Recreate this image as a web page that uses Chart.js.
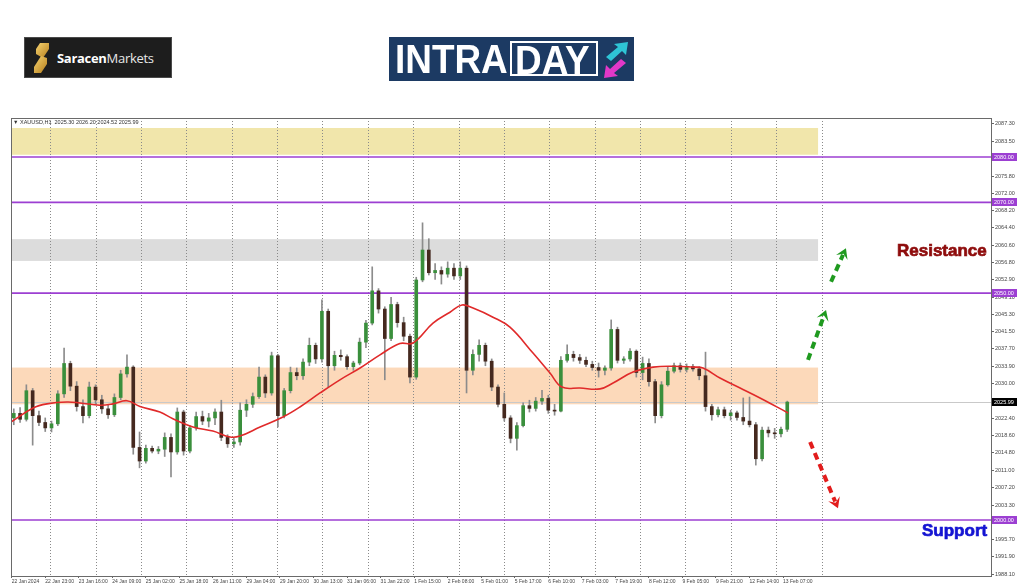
<!DOCTYPE html>
<html>
<head>
<meta charset="utf-8">
<script src="https://cdn.jsdelivr.net/npm/chart.js@4.4.1/dist/chart.umd.min.js"></script>
<style>
    body { margin: 0; background: #fff; width: 1024px; height: 587px; overflow: hidden; position: relative; font-family: "Liberation Sans", Arial, sans-serif; }
    #graficoOuro { position: absolute; left: 0; top: 0; }
    .logoSaracen { position: absolute; left: 24px; top: 37px; width: 148px; height: 41px; background: #1d1d1d; border: 1px solid #4a4a4a; box-sizing: border-box; }
    .logoSaracen svg { position: absolute; left: 8px; top: 5px; }
    .logoSaracen .nome { position: absolute; left: 32px; top: 11px; font-family: "Open Sans", sans-serif; font-size: 13px; color: #e8e8e8; letter-spacing: -0.3px; }
    .logoSaracen .nome b { color: #fff; font-weight: 700; }
    .logoIntra { position: absolute; left: 389px; top: 37px; width: 245px; height: 44px; background: #1c3a63; }
    .logoIntra .intra { position: absolute; left: 6px; top: 2px; font-size: 41px; font-weight: 700; color: #fff; transform: scaleX(0.9); transform-origin: left top; line-height: 41px; }
    .logoIntra .day { position: absolute; left: 121px; top: 4px; width: 88px; height: 35px; border: 2px solid #fff; box-sizing: border-box; }
    .logoIntra .day span { position: absolute; left: 3px; top: -3px; font-size: 41px; font-weight: 700; color: #fff; transform: scaleX(0.9); transform-origin: left top; line-height: 41px; }
    .logoIntra svg { position: absolute; left: 213px; top: 4px; }
    .cabecalho { position: absolute; left: 13px; top: 119px; font-size: 5.5px; color: #333; white-space: pre; }
    .rotulo { position: absolute; font-size: 17px; font-weight: 700; line-height: 17px; -webkit-text-stroke: 0.7px currentColor; }
    .resistencia { left: 897px; top: 242px; color: #8e0c0c; }
    .suporte { left: 922px; top: 522px; color: #1414d2; }
</style>
</head>
<body>
<canvas id="graficoOuro" width="1024" height="587"></canvas>

<div class="logoSaracen">
    <svg width="18" height="30" viewBox="0 0 18 30">
        <defs>
            <linearGradient id="ouro" x1="0" y1="0" x2="1" y2="1">
                <stop offset="0" stop-color="#f7d470"/>
                <stop offset="1" stop-color="#b57e1d"/>
            </linearGradient>
        </defs>
        <polygon points="7,0 16,0 16,6 10,15 3,11 3,6" fill="url(#ouro)"/>
        <polygon points="14,15 14,21 8,30 1,30 1,24 8,13" fill="url(#ouro)"/>
    </svg>
    <span class="nome"><b>Saracen</b>Markets</span>
</div>

<div class="logoIntra">
    <span class="intra">INTRA</span>
    <div class="day"><span>DAY</span></div>
    <svg width="28" height="38" viewBox="0 0 28 38">
        <polygon points="4,16 16,6 12,3 26,1 24,14 20,10 9,20" fill="#2ec4d6"/>
        <polygon points="24,22 12,32 16,35 2,37 4,24 8,28 19,18" fill="#e238c8"/>
    </svg>
</div>

<div class="cabecalho">&#9660; XAUUSD,H1  2025.30 2026.20 2024.52 2025.99</div>
<div class="rotulo resistencia">Resistance</div>
<div class="rotulo suporte">Support</div>

<script>
// Velas de 3 horas (XAUUSD H1 agrupado)
const abertura = [
    2022.5, 2023.5, 2022.2, 2028.5, 2023.0, 2021.5, 2020.3, 2021.2, 2027.8, 2034.5,
    2029.5, 2025.0, 2023.0, 2029.3, 2026.5, 2024.5, 2023.2, 2027.0, 2032.2, 2033.7,
    2016.0, 2013.0, 2015.8, 2015.2, 2015.6, 2018.2, 2015.0, 2023.8, 2015.2, 2020.3,
    2022.8, 2021.8, 2022.5, 2023.8, 2018.2, 2016.8, 2017.2, 2024.2, 2025.5, 2027.2,
    2031.5, 2028.0, 2036.2, 2023.0, 2028.5, 2032.5, 2031.8, 2034.8, 2038.5, 2035.5,
    2046.0, 2034.0, 2036.3, 2036.0, 2033.8, 2034.6, 2039.2, 2043.4, 2050.5, 2046.5,
    2040.0, 2047.5, 2043.5, 2040.5, 2031.5, 2052.9, 2059.5, 2054.5, 2055.0, 2054.2,
    2055.5, 2053.8, 2055.5, 2033.0, 2036.5, 2038.5, 2035.0, 2029.3, 2025.5, 2022.5,
    2018.0, 2020.8, 2025.2, 2024.6, 2026.2, 2026.8, 2024.2, 2024.0, 2035.2, 2036.5,
    2035.8, 2035.2, 2034.3, 2033.6, 2033.0, 2033.5, 2042.0, 2035.2, 2035.5, 2037.2,
    2032.5, 2034.5, 2030.5, 2023.0, 2029.8, 2032.8, 2034.0, 2033.2, 2033.8, 2033.3,
    2031.8, 2025.0, 2023.2, 2024.3, 2023.0, 2023.6, 2022.6, 2021.8, 2021.0, 2013.5,
    2019.8, 2019.2, 2019.0, 2020.0
];
const maxima = [
    2024.5, 2024.8, 2029.8, 2029.0, 2024.0, 2022.5, 2021.8, 2028.5, 2037.9, 2035.0,
    2030.5, 2026.5, 2030.4, 2029.8, 2027.5, 2025.3, 2027.8, 2033.0, 2036.4, 2034.0,
    2019.4, 2016.5, 2016.3, 2016.2, 2019.2, 2019.0, 2024.7, 2024.2, 2020.8, 2023.8,
    2024.0, 2023.5, 2024.5, 2026.4, 2018.8, 2018.0, 2025.8, 2026.5, 2028.0, 2033.7,
    2032.0, 2037.0, 2036.5, 2029.0, 2033.7, 2033.5, 2035.5, 2040.1, 2039.0, 2048.5,
    2046.5, 2037.2, 2037.5, 2036.4, 2035.0, 2040.1, 2044.0, 2055.8, 2051.0, 2047.0,
    2049.1, 2048.0, 2044.7, 2041.0, 2053.5, 2065.5, 2062.0, 2056.5, 2055.8, 2056.9,
    2056.5, 2056.9, 2056.0, 2037.5, 2039.7, 2039.0, 2035.5, 2029.8, 2028.0, 2023.0,
    2021.5, 2025.8, 2026.4, 2027.0, 2028.6, 2027.5, 2025.5, 2036.0, 2038.6, 2037.2,
    2036.5, 2035.9, 2035.0, 2034.6, 2034.0, 2044.1, 2042.5, 2036.0, 2037.8, 2037.5,
    2035.9, 2035.5, 2031.0, 2030.5, 2033.7, 2034.6, 2034.6, 2034.4, 2034.3, 2033.8,
    2037.0, 2025.5, 2024.9, 2024.9, 2024.2, 2024.0, 2026.9, 2027.1, 2021.5, 2020.5,
    2020.5, 2020.2, 2020.5, 2026.2
];
const minima = [
    2021.0, 2021.5, 2021.8, 2016.5, 2020.8, 2019.5, 2019.4, 2020.8, 2027.0, 2028.5,
    2024.0, 2021.4, 2022.5, 2025.5, 2023.5, 2022.4, 2022.8, 2026.5, 2031.5, 2014.5,
    2011.5, 2012.5, 2014.8, 2014.6, 2014.0, 2009.5, 2014.5, 2014.3, 2014.8, 2019.8,
    2021.0, 2020.5, 2021.0, 2017.5, 2016.0, 2016.0, 2016.5, 2022.8, 2024.8, 2026.8,
    2027.0, 2027.5, 2020.5, 2022.5, 2028.0, 2030.9, 2031.0, 2034.0, 2034.5, 2034.8,
    2029.3, 2033.0, 2035.2, 2033.2, 2033.0, 2034.2, 2038.0, 2043.0, 2045.6, 2030.9,
    2039.5, 2042.5, 2039.5, 2030.2, 2031.0, 2052.5, 2054.0, 2053.0, 2052.0, 2053.5,
    2053.0, 2053.0, 2028.0, 2032.0, 2035.0, 2034.0, 2028.5, 2024.9, 2021.8, 2017.0,
    2015.4, 2020.5, 2023.8, 2024.0, 2025.5, 2023.5, 2023.1, 2023.8, 2034.8, 2035.0,
    2034.5, 2033.8, 2033.0, 2031.5, 2032.0, 2033.0, 2034.6, 2034.5, 2035.0, 2031.5,
    2030.9, 2029.5, 2021.4, 2022.5, 2029.5, 2032.4, 2032.6, 2032.6, 2032.8, 2030.9,
    2024.0, 2022.0, 2022.7, 2022.5, 2022.0, 2022.0, 2021.0, 2020.5, 2012.1, 2013.0,
    2018.3, 2018.0, 2018.3, 2019.5
];
const fechamento = [
    2023.5, 2022.2, 2028.5, 2023.0, 2021.5, 2020.3, 2021.2, 2027.8, 2034.5, 2029.5,
    2025.0, 2023.0, 2029.3, 2026.5, 2024.5, 2023.2, 2027.0, 2032.2, 2033.7, 2016.0,
    2013.0, 2015.8, 2015.2, 2015.6, 2018.2, 2015.0, 2023.8, 2015.2, 2020.3, 2022.8,
    2021.8, 2022.5, 2023.8, 2018.2, 2016.8, 2017.2, 2024.2, 2025.5, 2027.2, 2031.5,
    2028.0, 2036.2, 2023.0, 2028.5, 2032.5, 2031.8, 2034.8, 2038.5, 2035.5, 2046.0,
    2034.0, 2036.3, 2036.0, 2033.8, 2034.6, 2039.2, 2043.4, 2050.5, 2046.5, 2040.0,
    2047.5, 2043.5, 2040.5, 2031.5, 2052.9, 2059.5, 2054.5, 2055.0, 2054.2, 2055.5,
    2053.8, 2055.5, 2033.0, 2036.5, 2038.5, 2035.0, 2029.3, 2025.5, 2022.5, 2018.0,
    2020.8, 2025.2, 2024.6, 2026.2, 2026.8, 2024.2, 2024.0, 2035.2, 2036.5, 2035.8,
    2035.2, 2034.3, 2033.6, 2033.0, 2033.5, 2042.0, 2035.2, 2035.5, 2037.2, 2032.5,
    2034.5, 2030.5, 2023.0, 2029.8, 2032.8, 2034.0, 2033.2, 2033.8, 2033.3, 2031.8,
    2025.0, 2023.2, 2024.3, 2023.0, 2023.6, 2022.6, 2021.8, 2021.0, 2013.5, 2019.8,
    2019.2, 2019.0, 2020.0, 2025.99
];

// Média móvel (linha vermelha): posição em barras H1 e valor
const mediaBarra = [0, 10.2, 16.8, 26.4, 32.6, 42.1, 48.3, 55.0, 61.2, 70.7, 76.9, 86.5, 96.0, 104.2, 108.9,
    118.5, 129.4, 137.5, 147.1, 156.6, 166.2, 175.7, 185.2, 191.4, 201.0, 209.1, 214.8, 220.1, 229.6, 237.7,
    248.7, 256.8, 262.5, 271.1, 280.7, 286.9, 296.4, 306.0, 315.5, 325.1, 329.8, 337.9, 347.5, 357.0, 370.4];
const mediaValor = [2021.7, 2024.7, 2025.6, 2026.0, 2025.8, 2025.3, 2025.6, 2026.3, 2025.0, 2023.8, 2022.3, 2020.5, 2019.6, 2018.3, 2018.5,
    2020.5, 2022.7, 2024.9, 2028.0, 2030.9, 2033.5, 2036.4, 2038.9, 2039.0, 2043.4, 2045.8, 2047.4, 2046.7, 2044.7, 2042.5,
    2036.8, 2032.4, 2029.3, 2029.1, 2028.9, 2030.2, 2032.6, 2033.7, 2033.9, 2033.7, 2033.5, 2031.3, 2029.1, 2026.9, 2023.6];

// Eixos
const rotulosX = ['22 Jan 2024', '22 Jan 23:00', '23 Jan 16:00', '24 Jan 09:00', '25 Jan 02:00', '25 Jan 18:00',
    '26 Jan 11:00', '29 Jan 04:00', '29 Jan 20:00', '30 Jan 13:00', '31 Jan 06:00', '31 Jan 22:00', '1 Feb 15:00',
    '2 Feb 08:00', '5 Feb 01:00', '5 Feb 17:00', '6 Feb 10:00', '7 Feb 03:00', '7 Feb 19:00', '8 Feb 12:00',
    '9 Feb 05:00', '9 Feb 21:00', '12 Feb 14:00', '13 Feb 07:00'];
const barrasRotulosX = [0, 16, 32, 48, 64, 80, 96, 112, 128, 144, 160, 176, 192, 208, 224, 240, 256, 272, 288, 304, 320, 336, 352, 368];
const barrasGrade = [16.7, 39.7, 62.7, 85.7, 108.7, 131.7, 154.7, 177.7, 200.7, 223.7, 246.7, 269.7, 292.7, 315.7, 338.7, 361.7, 384.7];
const ticksY = [1988.10, 1991.90, 1995.70, 1999.50, 2003.30, 2007.20, 2011.00, 2014.80, 2018.60, 2022.40, 2026.20,
    2030.00, 2033.90, 2037.70, 2041.50, 2045.30, 2049.10, 2052.90, 2056.80, 2060.60, 2064.40, 2068.20, 2072.00,
    2075.80, 2079.70, 2083.50, 2087.30];

// Zonas, níveis e setas
const zonaTopo = [2086.4, 2061.9, 2033.6];
const zonaBase = [2080.5, 2057.1, 2025.5];
const zonaFimBarra = 384.7;
const niveis = [2080, 2070, 2050, 2000];
const precoAtual = 2025.99;
const setaDe = [[379.9, 2035.3], [390.9, 2052.5], [380.9, 2017.2]];
const setaPara = [[388.5, 2046.3], [398.0, 2059.9], [394.2, 2002.6]];

const coresZona = ['#f1e6ab', '#dcdcdc', '#fcd9ba'];
const coresSeta = ['#1f9a1f', '#1f9a1f', '#e21c1c'];
const corNivel = '#9c3fd2';

const posVela = fechamento.map((_, i) => i * 3 + 1);
const velasCorpo = posVela.map((x, i) => ({ x: x, y: [abertura[i], fechamento[i]] }));
const velasPavio = posVela.map((x, i) => ({ x: x, y: [minima[i], maxima[i]] }));
const pontosMedia = mediaBarra.map((x, i) => ({ x: x, y: mediaValor[i] }));

function desenharSeta(ctx, x0, y0, x1, y1, cor) {
    const ang = Math.atan2(y1 - y0, x1 - x0);
    const cabeca = 12;
    ctx.strokeStyle = cor;
    ctx.lineWidth = 4;
    ctx.setLineDash([7, 5]);
    ctx.beginPath();
    ctx.moveTo(x0, y0);
    ctx.lineTo(x1 - Math.cos(ang) * cabeca * 0.6, y1 - Math.sin(ang) * cabeca * 0.6);
    ctx.stroke();
    ctx.setLineDash([]);
    ctx.fillStyle = cor;
    ctx.beginPath();
    ctx.moveTo(x1, y1);
    ctx.lineTo(x1 - cabeca * Math.cos(ang - 0.55), y1 - cabeca * Math.sin(ang - 0.55));
    ctx.lineTo(x1 - cabeca * 0.5 * Math.cos(ang), y1 - cabeca * 0.5 * Math.sin(ang));
    ctx.lineTo(x1 - cabeca * Math.cos(ang + 0.55), y1 - cabeca * Math.sin(ang + 0.55));
    ctx.closePath();
    ctx.fill();
}

function caixaPreco(ctx, yPix, texto, cor) {
    ctx.fillStyle = cor;
    ctx.fillRect(992, Math.round(yPix) - 4, 25, 8);
    ctx.fillStyle = '#fff';
    ctx.font = '5.5px "Liberation Sans"';
    ctx.textBaseline = 'middle';
    ctx.textAlign = 'left';
    ctx.fillText(texto, 994, Math.round(yPix) + 0.5);
}

const desenhoExtra = {
    id: 'desenhoExtra',
    beforeDraw(chart) {
        const { ctx, chartArea: a, scales: { x, y } } = chart;
        ctx.save();
        const xFim = x.getPixelForValue(zonaFimBarra);
        zonaTopo.forEach((topo, i) => {
            const yt = y.getPixelForValue(topo);
            const yb = y.getPixelForValue(zonaBase[i]);
            ctx.fillStyle = coresZona[i];
            ctx.fillRect(a.left, yt, xFim - a.left, yb - yt);
        });
        ctx.restore();
    },
    beforeDatasetsDraw(chart) {
        const { ctx, chartArea: a, scales: { y } } = chart;
        ctx.save();
        const yp = Math.round(y.getPixelForValue(precoAtual)) + 0.5;
        ctx.strokeStyle = '#c9c9c9';
        ctx.lineWidth = 1;
        ctx.beginPath();
        ctx.moveTo(a.left, yp);
        ctx.lineTo(a.right, yp);
        ctx.stroke();
        ctx.strokeStyle = corNivel;
        ctx.lineWidth = 1.6;
        niveis.forEach(v => {
            const py = y.getPixelForValue(v);
            ctx.beginPath();
            ctx.moveTo(a.left, py);
            ctx.lineTo(a.right, py);
            ctx.stroke();
        });
        ctx.restore();
    },
    afterDraw(chart) {
        const { ctx, chartArea: a, scales: { x, y } } = chart;
        ctx.save();
        ctx.strokeStyle = '#6a6a6a';
        ctx.lineWidth = 1;
        ctx.strokeRect(a.left + 0.5, a.top + 0.5, a.right - a.left, a.bottom - a.top);
        setaDe.forEach((de, i) => {
            desenharSeta(ctx, x.getPixelForValue(de[0]), y.getPixelForValue(de[1]),
                x.getPixelForValue(setaPara[i][0]), y.getPixelForValue(setaPara[i][1]), coresSeta[i]);
        });
        niveis.forEach(v => caixaPreco(ctx, y.getPixelForValue(v), v.toFixed(2), corNivel));
        caixaPreco(ctx, y.getPixelForValue(precoAtual), precoAtual.toFixed(2), '#000');
        ctx.restore();
    }
};

const ctx = document.getElementById('graficoOuro').getContext('2d');

const graficoOuro = new Chart(ctx, {
    type: 'bar',
    data: {
        datasets: [
            {
                type: 'line',
                label: 'Média',
                data: pontosMedia,
                borderColor: '#e02a2a',
                borderWidth: 1.6,
                pointRadius: 0,
                tension: 0.4,
                order: 0
            },
            {
                label: 'Corpo',
                data: velasCorpo,
                backgroundColor: c => {
                    const i = c.dataIndex;
                    return fechamento[i] >= abertura[i] ? '#3a8f3c' : '#45291f';
                },
                barThickness: 3,
                minBarLength: 1,
                grouped: false,
                order: 1
            },
            {
                label: 'Pavio',
                data: velasPavio,
                backgroundColor: '#8c8c8c',
                barThickness: 1,
                grouped: false,
                order: 2
            }
        ]
    },
    options: {
        responsive: false,
        animation: false,
        devicePixelRatio: 1,
        layout: { padding: { left: 11, top: 118, right: 0, bottom: 0 } },
        plugins: {
            legend: { display: false },
            tooltip: { enabled: false }
        },
        scales: {
            x: {
                type: 'linear',
                min: -0.33,
                max: 467.2,
                offset: false,
                afterBuildTicks: s => { s.ticks = barrasRotulosX.map(v => ({ value: v })); },
                afterFit: s => { s.height = 11; },
                grid: { drawOnChartArea: false, offset: false, tickLength: 2, color: '#666' },
                border: { display: false },
                ticks: {
                    autoSkip: false,
                    maxRotation: 0,
                    align: 'start',
                    padding: 1,
                    color: '#444',
                    font: { size: 5, family: 'Liberation Sans' },
                    callback: (v, i) => rotulosX[i]
                }
            },
            x2: {
                type: 'linear',
                position: 'bottom',
                min: -0.33,
                max: 467.2,
                afterBuildTicks: s => { s.ticks = barrasGrade.map(v => ({ value: v })); },
                afterFit: s => { s.height = 0; },
                grid: { color: '#8a8a8a', drawTicks: false },
                border: { display: false, dash: [1, 2] },
                ticks: { display: false }
            },
            y: {
                position: 'right',
                min: 1987.66,
                max: 2088.60,
                afterBuildTicks: s => { s.ticks = ticksY.map(v => ({ value: v })); },
                afterFit: s => { s.width = 33; },
                grid: { drawOnChartArea: false, tickLength: 3, color: '#666' },
                border: { display: true, color: '#666' },
                ticks: {
                    autoSkip: false,
                    padding: 1,
                    color: '#444',
                    font: { size: 5.5, family: 'Liberation Sans' },
                    callback: v => v.toFixed(2)
                }
            }
        }
    },
    plugins: [desenhoExtra]
});
</script>
</body>
</html>
